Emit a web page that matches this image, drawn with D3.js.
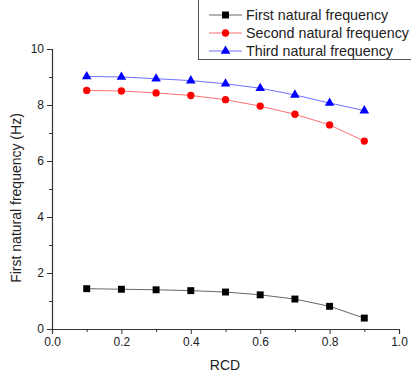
<!DOCTYPE html>
<html>
<head>
<meta charset="utf-8">
<script src="https://cdn.jsdelivr.net/npm/d3@7"></script>
<style>
  html, body { margin: 0; padding: 0; background: #fff; }
  svg { display: block; font-family: Arial, "Liberation Sans", sans-serif; }
</style>
</head>
<body>
<div id="chart"></div>
<script>
// RCD values on x axis
const rcd = [0.1, 0.2, 0.3, 0.4, 0.5, 0.6, 0.7, 0.8, 0.9];
// natural frequencies (Hz)
const firstFreq = [1.44, 1.42, 1.40, 1.37, 1.32, 1.22, 1.07, 0.81, 0.39];
const secondFreq = [8.52, 8.50, 8.43, 8.34, 8.19, 7.96, 7.67, 7.29, 6.71];
const thirdFreq = [9.02, 9.00, 8.94, 8.87, 8.76, 8.60, 8.36, 8.07, 7.80];

const seriesNames = ["First natural frequency", "Second natural frequency", "Third natural frequency"];
const xTicks = [0.0, 0.2, 0.4, 0.6, 0.8, 1.0];
const yTicks = [0, 2, 4, 6, 8, 10];

const width = 411, height = 378;

const svg = d3.select('#chart').append('svg')
    .attr('width', width)
    .attr('height', height);

const x = d3.scaleLinear().domain([0, 1]).range([52, 399]);
const y = d3.scaleLinear().domain([0, 10]).range([329, 49]);

// axes (Origin style: outward ticks, minor ticks between)
svg.append('g')
    .attr('transform', `translate(0,${y(0)})`)
    .call(d3.axisBottom(x).tickValues(xTicks).tickFormat(d3.format('.1f')).tickSize(5).tickPadding(3));
svg.append('g')
    .attr('transform', `translate(0,${y(0)})`)
    .call(d3.axisBottom(x).tickValues([0.1, 0.3, 0.5, 0.7, 0.9]).tickFormat('').tickSize(3))
    .select('.domain').remove();

svg.append('g')
    .attr('transform', `translate(${x(0)},0)`)
    .call(d3.axisLeft(y).tickValues(yTicks).tickSize(5).tickPadding(3));
svg.append('g')
    .attr('transform', `translate(${x(0)},0)`)
    .call(d3.axisLeft(y).tickValues([1, 3, 5, 7, 9]).tickFormat('').tickSize(3))
    .select('.domain').remove();

svg.selectAll('.domain').attr('stroke', '#333').attr('stroke-width', 1.2);
svg.selectAll('.tick line').attr('stroke', '#333').attr('stroke-width', 1);
svg.selectAll('.tick text').attr('font-size', 12).attr('fill', '#222')
    .attr('font-family', 'Arial, "Liberation Sans", sans-serif');

// axis titles
svg.append('text')
    .attr('x', (x(0) + x(1)) / 2 - 0.5)
    .attr('y', 370)
    .attr('text-anchor', 'middle')
    .attr('font-size', 14)
    .attr('fill', '#222')
    .text('RCD');

svg.append('text')
    .attr('transform', `translate(21,198) rotate(-90)`)
    .attr('text-anchor', 'middle')
    .attr('font-size', 14)
    .attr('fill', '#222')
    .text('First natural frequency (Hz)');

const series = [
    { name: seriesNames[0], values: firstFreq, color: '#000', line: '#666', symbol: d3.symbolSquare, size: 48 },
    { name: seriesNames[1], values: secondFreq, color: '#ff0000', line: '#ff7070', symbol: d3.symbolCircle, size: 42 },
    { name: seriesNames[2], values: thirdFreq, color: '#0000ff', line: '#7070ff', symbol: d3.symbolTriangle, size: 40 }
];

const line = d3.line()
    .x((d, i) => x(rcd[i]))
    .y(d => y(d));

series.forEach(s => {
    svg.append('path')
        .datum(s.values)
        .attr('d', line)
        .attr('fill', 'none')
        .attr('stroke', s.line)
        .attr('stroke-width', 1);

    svg.append('g')
        .selectAll('path')
        .data(s.values)
        .join('path')
        .attr('transform', (d, i) => `translate(${x(rcd[i])},${y(d)})`)
        .attr('d', d3.symbol().type(s.symbol).size(s.size))
        .attr('fill', s.color);
});

// legend box, cut off at top and right like the reference
const legend = svg.append('g');
legend.append('rect')
    .attr('x', 198.5)
    .attr('y', -2)
    .attr('width', 230)
    .attr('height', 61.5)
    .attr('fill', '#fff')
    .attr('stroke', '#555')
    .attr('stroke-width', 1);

series.forEach((s, i) => {
    const ly = 15 + i * 18;
    legend.append('line')
        .attr('x1', 209).attr('x2', 242)
        .attr('y1', ly).attr('y2', ly)
        .attr('stroke', s.line)
        .attr('stroke-width', 1);
    legend.append('path')
        .attr('transform', `translate(225.5,${ly})`)
        .attr('d', d3.symbol().type(s.symbol).size(s.size))
        .attr('fill', s.color);
    legend.append('text')
        .attr('x', 246)
        .attr('y', ly)
        .attr('dy', '0.36em')
        .attr('font-size', 14.3)
        .attr('fill', '#222')
        .text(s.name);
});
</script>
</body>
</html>
